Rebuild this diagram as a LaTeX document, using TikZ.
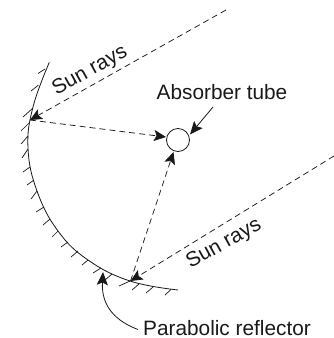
\documentclass[tikz,border=0pt]{standalone}
\usepackage{fontspec}
\setmainfont{Liberation Sans}
\usetikzlibrary{arrows.meta}
\tikzset{
  labeltext/.style={inner sep=0pt,font=\fontsize{20.8}{24}\selectfont,text=black!90},
  ray/.style={line width=0.75pt,dash pattern=on 6pt off 4pt,black!90},
  rayhead/.style={-{Stealth[length=12pt,width=11pt,inset=2.5pt]}},
  mirror/.style={line width=0.8pt,black!90},
  hatch/.style={line width=0.7pt,black!90},
  leader/.style={line width=0.8pt,black!90,-{Stealth[length=13pt,width=11pt,inset=2.5pt]}}
}
\begin{document}
\begin{tikzpicture}[x=1pt,y=-1pt]
\useasboundingbox (0,0) rectangle (334,338);
% reflector
\draw[mirror] plot[smooth,tension=0.7] coordinates
  {(49.3,62.3) (33,107) (28,148) (37,191) (58,231) (88,260) (130,281) (178,290)};
\foreach \xa/\ya/\xb/\yb in {45/69/38/73.5, 38.5/85/31/91, 33/108/23/117, 29/123/21/131, 28/136/21/144, 28/149/22/158, 30/167/23/172, 34/180/27/185, 37/191/31/199, 44/207/36/212, 50/219/43/225, 58/231/52/237, 68/242/61/247, 78/251/71/257, 88/260/82/265, 101/268/93/273, 112/274/105/280, 130/281/119/286, 139/284/132/290, 153/287/146/293, 171/289.5/165/295}
  \draw[hatch] (\xa,\ya) -- (\xb,\yb);
% named points
\node[draw,circle,line width=0.8pt,black!90,minimum size=23pt,inner sep=0pt] (tube) at (178,140) {};
\coordinate (topfar) at (226,10);
\coordinate (toppt) at (30,120);
\coordinate (botfar) at (334,156);
\coordinate (botpt) at (130.5,281);
\coordinate (tubeL) at (166,137);
\coordinate (tubeB) at (173.5,152);
\node[labeltext] (abs) at (222,92) {Absorber tube};
\node[labeltext,anchor=base west] (par) at (143,335) {Parabolic reflector};
\node[labeltext,rotate=29] (sun1) at (90,71) {Sun rays};
\node[labeltext,rotate=29] (sun2) at (224,244) {Sun rays};
% rays
\draw[ray,rayhead] (topfar) -- (toppt);
\draw[ray,rayhead] (toppt) -- (tubeL);
\draw[ray,rayhead] (botfar) -- (botpt);
\draw[ray,rayhead] (botpt) -- (tubeB);
% leaders
\coordinate (absstart) at (213,107);
\coordinate (absend) at (190,134.5);
\draw[leader] (absstart) -- (absend);
\coordinate (parstart) at (138,329.5);
\coordinate (parend) at (103,272);
\draw[leader] (parstart) .. controls (118,322) and (101,308) .. (parend);
\end{tikzpicture}
\end{document}
